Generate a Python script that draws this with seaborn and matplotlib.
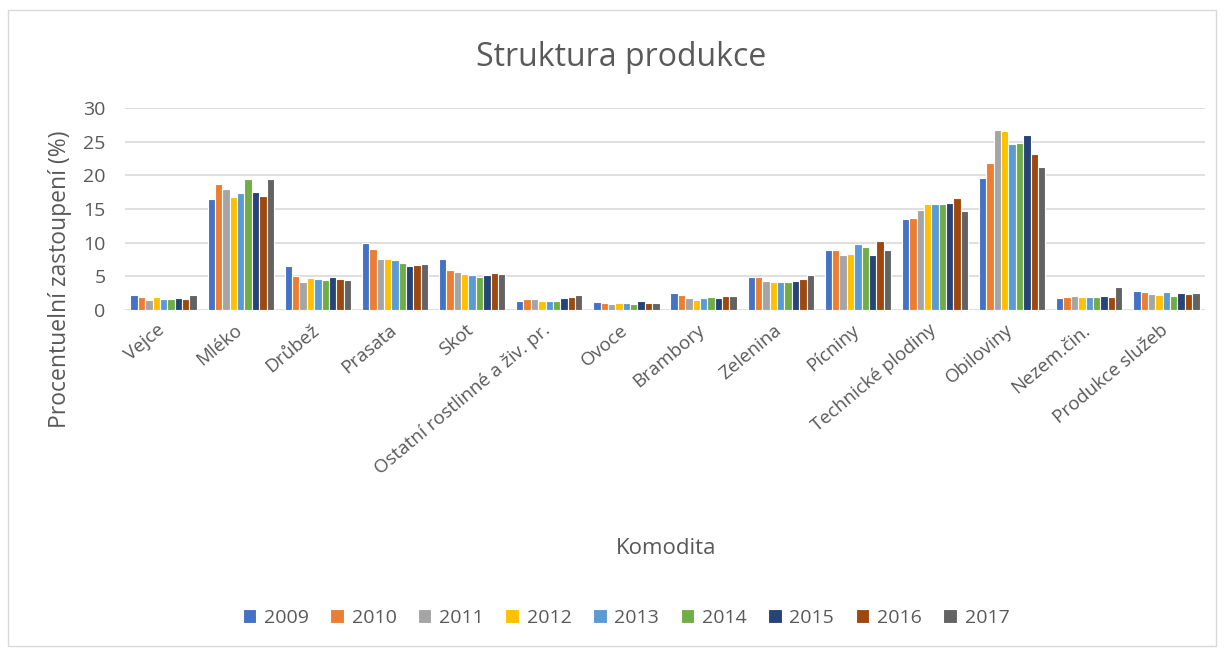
import numpy as np
import pandas as pd
import matplotlib
matplotlib.use("Agg")
import matplotlib.pyplot as plt
import matplotlib.transforms as mtransforms
import seaborn as sns
from matplotlib.patches import Rectangle

# Data
komodity = ["Vejce", "Mléko", "Drůbež", "Prasata", "Skot",
            "Ostatní rostlinné a živ. pr.", "Ovoce", "Brambory", "Zelenina",
            "Pícniny", "Technické plodiny", "Obiloviny", "Nezem.čin.",
            "Produkce služeb"]
roky = ["2009", "2010", "2011", "2012", "2013", "2014", "2015", "2016", "2017"]

vejce = [2.3, 2.0, 1.5, 2.0, 1.7, 1.7, 1.8, 1.7, 2.2]
mleko = [16.5, 18.7, 18.0, 16.8, 17.4, 19.4, 17.5, 16.9, 19.4]
drubez = [6.5, 5.1, 4.2, 4.75, 4.6, 4.5, 4.95, 4.55, 4.45]
prasata = [9.9, 9.05, 7.5, 7.6, 7.4, 7.0, 6.5, 6.7, 6.9]
skot = [7.6, 6.0, 5.6, 5.4, 5.25, 4.85, 5.25, 5.55, 5.4]
ostatni = [1.4, 1.6, 1.7, 1.4, 1.35, 1.4, 1.75, 2.0, 2.3]
ovoce = [1.25, 1.1, 0.9, 1.0, 1.1, 0.95, 1.4, 1.1, 1.1]
brambory = [2.5, 2.3, 1.8, 1.55, 1.85, 2.0, 1.75, 2.15, 2.1]
zelenina = [4.95, 4.95, 4.3, 4.15, 4.2, 4.15, 4.3, 4.65, 5.15]
picniny = [8.9, 8.9, 8.15, 8.25, 9.75, 9.4, 8.1, 10.2, 8.95]
technicke = [13.55, 13.7, 14.85, 15.7, 15.8, 15.7, 15.9, 16.6, 14.65]
obiloviny = [19.55, 21.9, 26.7, 26.6, 24.65, 24.75, 26.0, 23.1, 21.2]
nezem = [1.85, 1.9, 2.1, 2.0, 1.95, 1.95, 2.1, 2.0, 3.4]
sluzby = [2.85, 2.6, 2.45, 2.3, 2.7, 2.1, 2.55, 2.35, 2.5]

hodnoty = [vejce, mleko, drubez, prasata, skot, ostatni, ovoce, brambory,
           zelenina, picniny, technicke, obiloviny, nezem, sluzby]

barvy = ["#4472C4", "#ED7D31", "#A5A5A5", "#FFC000", "#5B9BD5",
         "#70AD47", "#264478", "#9E480E", "#636363"]

# long format table for seaborn
rows = []
for k, vals in zip(komodity, hodnoty):
    for r, v in zip(roky, vals):
        rows.append({"Komodita": k, "Rok": r, "Podil": v})
df = pd.DataFrame(rows)

sns.set_style("white")
plt.rcParams["font.family"] = ["Open Sans", "DejaVu Sans"]
text_col = "#595959"

W, H = 1225, 652
fig = plt.figure(figsize=(W / 100, H / 100), dpi=100)
ax = fig.add_axes([125 / W, 1 - 310 / H, 1080 / W, 202 / H])

sns.barplot(data=df, x="Komodita", y="Podil", hue="Rok", order=komodity,
            hue_order=roky, palette=barvy, width=0.86, edgecolor="white",
            linewidth=0.8, saturation=1, ax=ax)

ax.set_ylim(0, 30)
ax.set_yticks(range(0, 31, 5))
ax.set_xlim(-0.5, len(komodity) - 0.5)
ax.yaxis.grid(True, color="#D9D9D9", linewidth=1.2)
ax.set_axisbelow(True)
for s in ax.spines.values():
    s.set_visible(False)
ax.tick_params(axis="both", length=0, colors=text_col, labelsize=14)
ax.tick_params(axis="y", pad=14)
ax.set_xticks(range(len(komodity)))
ax.set_xticklabels(komodity, rotation=40, ha="right",
                   rotation_mode="anchor", fontsize=13.5, color=text_col)
# nudge rotated labels a little left/down like the original
shift = mtransforms.ScaledTranslation(-7 / 100, -6 / 100, fig.dpi_scale_trans)
for lbl in ax.get_xticklabels():
    lbl.set_transform(lbl.get_transform() + shift)
ax.set_xlabel("")
ax.set_ylabel("")

fig.text(621 / W, 1 - 57 / H, "Struktura produkce", ha="center",
         va="center", fontsize=23, color=text_col)
fig.text(60 / W, 1 - 279 / H, "Procentuelní zastoupení (%)", ha="center",
         va="center", rotation=90, fontsize=16.5, color=text_col)
fig.text(666 / W, 1 - 548 / H, "Komodita", ha="center", va="center",
         fontsize=16, color=text_col)

handles, labels = ax.get_legend_handles_labels()
ax.get_legend().remove()
fig.legend(handles, labels, loc="center", bbox_to_anchor=(626 / W, 1 - 618 / H),
           ncol=9, frameon=False, fontsize=14, handlelength=0.7,
           handleheight=0.7, handletextpad=0.4, columnspacing=1.1,
           labelcolor=text_col)

# chart border
fig.patches.append(Rectangle((8 / W, 6 / H), 1208 / W, 1 - 16 / H,
                             transform=fig.transFigure, fill=False,
                             edgecolor="#D9D9D9", linewidth=1))

fig.savefig("out.png", dpi=100)
